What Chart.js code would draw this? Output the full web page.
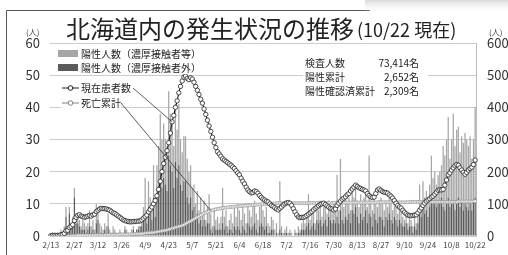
<!DOCTYPE html>
<html>
<head>
<meta charset="utf-8">
<script src="https://cdn.jsdelivr.net/npm/chart.js@4.4.0/dist/chart.umd.min.js"></script>
<style>
  html, body { margin: 0; padding: 0; background: #fff; }
  canvas { display: block; }
</style>
</head>
<body>
<canvas id="myChart" width="508" height="255"></canvas>
<script>
// days from 2/13 to 10/22 (2020)
const dates = [];
for (let i = 0; i < 253; i++) {
  const d = new Date(2020, 1, 13 + i);
  dates.push((d.getMonth() + 1) + '/' + d.getDate());
}
const xTickLabels = ['2/13','2/27','3/12','3/26','4/9','4/23','5/7','5/21','6/4','6/18',
  '7/2','7/16','7/30','8/13','8/27','9/10','9/24','10/8','10/22'];

// 陽性人数（濃厚接触者外） - dark bars
const nonContact = [
  0,1,0,0,0,0,1,1,2,6,  1,7,3,3,12,4,4,3,2,2,  2,1,2,3,1,2,1,4,5,1,
  1,1,2,1,3,1,0,1,1,0,  0,1,0,0,2,0,0,0,1,2,  1,2,2,3,3,5,6,4,9,7,
  5,12,6,13,15,20,15,18,16,14,  25,22,20,15,23,18,22,16,14,17,
  17,12,10,12,8,9,6,7,4,5,  3,5,3,4,4,2,1,3,2,2,  2,2,4,2,3,1,2,2,1,3,
  2,3,2,1,3,2,1,4,3,2,  3,4,2,1,3,4,3,2,3,1,  1,2,2,0,1,0,2,1,0,1,
  1,0,1,0,0,1,0,1,1,2,  2,2,3,4,2,3,4,2,5,4,  5,3,4,5,3,6,5,4,5,4,
  6,4,8,5,4,6,5,7,4,8,  7,9,6,4,7,5,6,8,4,7,  6,3,7,5,4,6,6,5,3,6,
  5,7,5,4,6,5,3,5,4,3,  3,4,2,3,3,1,3,2,4,8,  6,9,7,8,6,9,12,10,11,9,
  10,11,12,9,8,10,12,9,10,11,  8,10,12,9,11,8,10,9,8,10,  8,11,12
];
// 陽性人数（濃厚接触者等） - light bars
const contact = [
  0,0,0,0,0,0,1,0,1,3,  0,2,1,3,3,3,3,2,1,3,  2,2,2,5,2,3,1,6,3,3,
  2,1,2,2,4,1,1,2,1,1,  1,1,1,0,1,2,1,0,1,1,  0,0,1,0,2,4,12,2,8,5,
  5,10,6,9,13,18,15,17,14,14,  20,16,15,13,18,15,19,14,12,14,
  14,12,10,10,7,7,4,7,4,7,  4,6,2,5,9,5,2,5,3,4,  2,4,11,4,5,2,3,5,3,6,
  4,7,6,4,6,5,3,6,5,4,  6,7,5,4,6,6,5,4,6,3,  2,4,3,2,3,1,15,2,1,1,
  2,1,1,1,0,1,1,2,1,2,  3,2,3,9,3,4,5,2,5,4,  6,3,5,5,4,5,4,4,5,5,
  13,4,16,6,5,7,5,5,4,6,  5,6,5,5,6,5,6,6,5,18,  5,5,5,5,5,5,6,5,5,5,
  4,5,5,4,5,4,4,5,4,3,  2,3,2,3,2,2,3,2,3,8,  4,8,5,6,5,7,13,8,9,7,
  9,9,10,19,17,20,25,15,20,27,  20,23,22,17,20,21,22,21,20,21,  16,19,28
];
// 現在患者数 (right axis)
const patients = [
  1,2,2,2,2,2,4,5,8,16,  18,26,30,35,48,58,64,66,62,60,
  58,60,62,64,62,66,68,76,80,84,  86,85,85,84,82,80,76,72,70,66,
  62,58,54,50,48,46,45,44,44,45,  45,46,46,47,50,55,60,65,75,82,
  90,100,110,125,145,170,200,225,245,265,  290,320,355,375,400,420,445,465,482,494,
  497,490,486,492,488,478,465,453,440,425,  413,395,378,360,342,325,307,290,275,262,
  255,248,240,236,232,228,224,220,215,210,  203,196,190,180,170,162,152,143,138,134,
  135,140,138,133,126,120,115,112,108,106,  100,95,92,88,84,81,86,90,96,100,
  103,104,102,95,85,75,66,59,57,58,  58,60,64,68,72,76,81,86,90,94,
  98,100,102,98,94,90,86,84,81,84,  95,102,108,114,118,122,128,132,140,146,
  152,158,154,150,148,145,143,140,132,126,  122,120,121,132,143,146,142,138,136,135,
  133,128,124,118,110,102,95,90,87,80,  74,69,65,64,63,64,65,66,72,80,
  87,95,102,108,112,116,121,124,130,136,  142,144,143,145,158,174,190,196,205,212,
  218,222,220,212,205,198,192,198,205,210,  214,222,236
];
// 死亡累計 (right axis)
const deaths = [
  0,0,0,0,0,0,0,0,0,0,  0,0,1,1,1,1,2,2,2,2,  2,2,2,2,2,3,3,3,3,3,
  3,3,3,3,4,4,4,4,4,4,  4,5,5,5,5,5,5,5,6,6,  6,7,7,7,8,8,9,9,10,10,
  11,11,12,13,14,15,16,17,18,19,  21,22,24,25,27,28,30,31,33,35,
  38,41,44,47,50,53,56,59,62,65,  68,71,73,75,77,79,80,82,83,84,
  85,86,87,88,88,89,90,90,91,91,  92,92,93,93,94,94,95,95,95,96,
  96,97,97,98,98,99,99,99,100,100,  100,101,101,101,102,102,102,102,102,102,
  102,102,102,102,102,102,102,102,102,102,  102,102,102,103,103,103,103,103,103,103,
  103,103,103,103,103,103,103,103,103,103,  104,104,104,104,104,104,104,104,104,104,
  104,104,104,104,104,104,104,104,104,104,  104,104,104,104,105,105,105,105,105,105,
  105,105,105,105,105,105,105,105,105,105,  105,105,105,106,106,106,106,106,106,106,
  106,106,106,106,106,106,106,106,106,106,  106,106,106,106,106,106,106,106,106,106,
  106,106,107,107,107,107,107,107,107,107,  107,108,108
];

const summaryRows = [
  ['検査人数', '73,414名'],
  ['陽性累計', '2,652名'],
  ['陽性確認済累計', '2,309名']
];

const FONT = '"Noto Sans CJK JP", "Noto Sans", sans-serif';
const lightGray = '#a6a6a6';
const darkGray = '#5a5a5a';

const decor = {
  id: 'decor',
  afterDatasetsDraw(chart) {
    const ctx = chart.ctx;
    const p = chart.getDatasetMeta(2).data[72];
    const d = chart.getDatasetMeta(3).data[95];
    ctx.save();
    ctx.strokeStyle = '#333';
    ctx.lineWidth = 0.8;
    ctx.beginPath();
    ctx.moveTo(133, 88); ctx.lineTo(p.x, p.y);
    ctx.moveTo(121, 103); ctx.lineTo(d.x, d.y);
    ctx.stroke();
    ctx.restore();
  },
  afterDraw(chart) {
    const ctx = chart.ctx;
    ctx.save();
    // frame
    ctx.strokeStyle = '#555';
    ctx.lineWidth = 1;
    ctx.beginPath();
    ctx.moveTo(6.5, 255); ctx.lineTo(6.5, 10.5); ctx.lineTo(370, 10.5);
    ctx.stroke();
    const g = ctx.createLinearGradient(0, 0, 0, 13);
    g.addColorStop(0, '#d8d8d8'); g.addColorStop(1, 'rgba(255,255,255,0)');
    ctx.fillStyle = g;
    ctx.fillRect(365, 0, 143, 13);

    // title
    ctx.fillStyle = '#222';
    ctx.textBaseline = 'middle';
    ctx.textAlign = 'left';
    ctx.font = '24px ' + FONT;
    const t1 = '北海道内の発生状況の推移';
    ctx.fillText(t1, 66, 29);
    const w1 = ctx.measureText(t1).width;
    ctx.font = '18px ' + FONT;
    ctx.fillText('(10/22 現在)', 66 + w1 + 3, 30);

    // unit labels
    ctx.font = '8px ' + FONT;
    ctx.fillStyle = '#444';
    ctx.fillText('(人)', 26, 32);
    ctx.fillText('(人)', 489, 32);

    // legend
    const ds = chart.data.datasets;
    ctx.fillStyle = '#fff';
    ctx.fillRect(55, 46, 142, 28);
    ctx.font = '10px ' + FONT;
    ctx.fillStyle = ds[1].backgroundColor; ctx.fillRect(58, 50, 20, 7);
    ctx.fillStyle = ds[0].backgroundColor; ctx.fillRect(58, 64, 20, 7);
    ctx.fillStyle = '#222';
    ctx.fillText(ds[1].label, 81, 54);
    ctx.fillText(ds[0].label, 81, 68);
    [[2, 88], [3, 103]].forEach(([i, y]) => {
      const txt = ds[i].label;
      const tw = ctx.measureText(txt).width;
      ctx.fillStyle = '#fff';
      ctx.fillRect(61, y - 6, 20 + tw, 12);
      ctx.strokeStyle = ds[i].borderColor;
      ctx.lineWidth = 1;
      ctx.beginPath(); ctx.moveTo(62, y); ctx.lineTo(79, y); ctx.stroke();
      ctx.beginPath(); ctx.arc(70.5, y, 2.3, 0, Math.PI * 2);
      ctx.fillStyle = '#fff'; ctx.fill(); ctx.stroke();
      ctx.fillStyle = '#222';
      ctx.fillText(txt, 81, y);
    });

    // summary box
    ctx.fillStyle = '#fff';
    ctx.fillRect(303, 55, 125, 44);
    ctx.fillStyle = '#222';
    summaryRows.forEach((r, i) => {
      const y = 63 + i * 14;
      ctx.textAlign = 'left';
      ctx.fillText(r[0], 305, y);
      ctx.textAlign = 'right';
      ctx.fillText(r[1], 419, y);
    });
    ctx.restore();
  }
};

const ctx = document.getElementById('myChart');

const myChart = new Chart(ctx, {
  data: {
    labels: dates,
    datasets: [
      {
        type: 'bar',
        label: '陽性人数（濃厚接触者外）',
        data: nonContact,
        backgroundColor: darkGray,
        yAxisID: 'y',
        stack: 'pos',
        barPercentage: 1,
        categoryPercentage: 0.75,
        order: 2
      },
      {
        type: 'bar',
        label: '陽性人数（濃厚接触者等）',
        data: contact,
        backgroundColor: lightGray,
        yAxisID: 'y',
        stack: 'pos',
        barPercentage: 1,
        categoryPercentage: 0.75,
        order: 2
      },
      {
        type: 'line',
        label: '現在患者数',
        data: patients,
        yAxisID: 'y1',
        borderColor: '#1e1e1e',
        borderWidth: 1.1,
        pointRadius: 2.2,
        pointBorderWidth: 0.8,
        pointBorderColor: '#222',
        pointBackgroundColor: '#fff',
        order: 0
      },
      {
        type: 'line',
        label: '死亡累計',
        data: deaths,
        yAxisID: 'y1',
        borderColor: '#808080',
        borderWidth: 1,
        pointRadius: 1.5,
        pointBorderWidth: 0.6,
        pointBorderColor: '#888',
        pointBackgroundColor: '#fff',
        order: 1
      }
    ]
  },
  options: {
    responsive: false,
    animation: false,
    devicePixelRatio: 1,
    layout: { padding: { top: 43, left: 0, right: 0, bottom: 0 } },
    plugins: { legend: { display: false }, tooltip: { enabled: false } },
    scales: {
      x: {
        stacked: true,
        grid: { display: false, drawTicks: false },
        border: { display: false },
        ticks: {
          autoSkip: false,
          maxRotation: 0,
          minRotation: 0,
          padding: 4,
          color: '#444',
          font: { family: FONT, size: 8 },
          callback: function (v, i) {
            return xTickLabels.includes(dates[i]) ? dates[i] : '';
          }
        },
        afterFit: (s) => { s.height = 19; }
      },
      y: {
        position: 'left',
        stacked: true,
        min: 0,
        max: 60,
        grid: { color: '#cccccc', drawTicks: false },
        border: { display: false },
        ticks: {
          stepSize: 5,
          padding: 10,
          color: '#333',
          font: { family: FONT, size: 13 }
        },
        afterFit: (s) => { s.width = 50; }
      },
      y1: {
        position: 'right',
        min: 0,
        max: 600,
        grid: { drawOnChartArea: false, drawTicks: false },
        border: { display: true, color: '#bbbbbb' },
        ticks: {
          stepSize: 100,
          padding: 11,
          color: '#333',
          font: { family: FONT, size: 13 }
        },
        afterFit: (s) => { s.width = 32; }
      }
    }
  },
  plugins: [decor]
});
</script>
</body>
</html>
